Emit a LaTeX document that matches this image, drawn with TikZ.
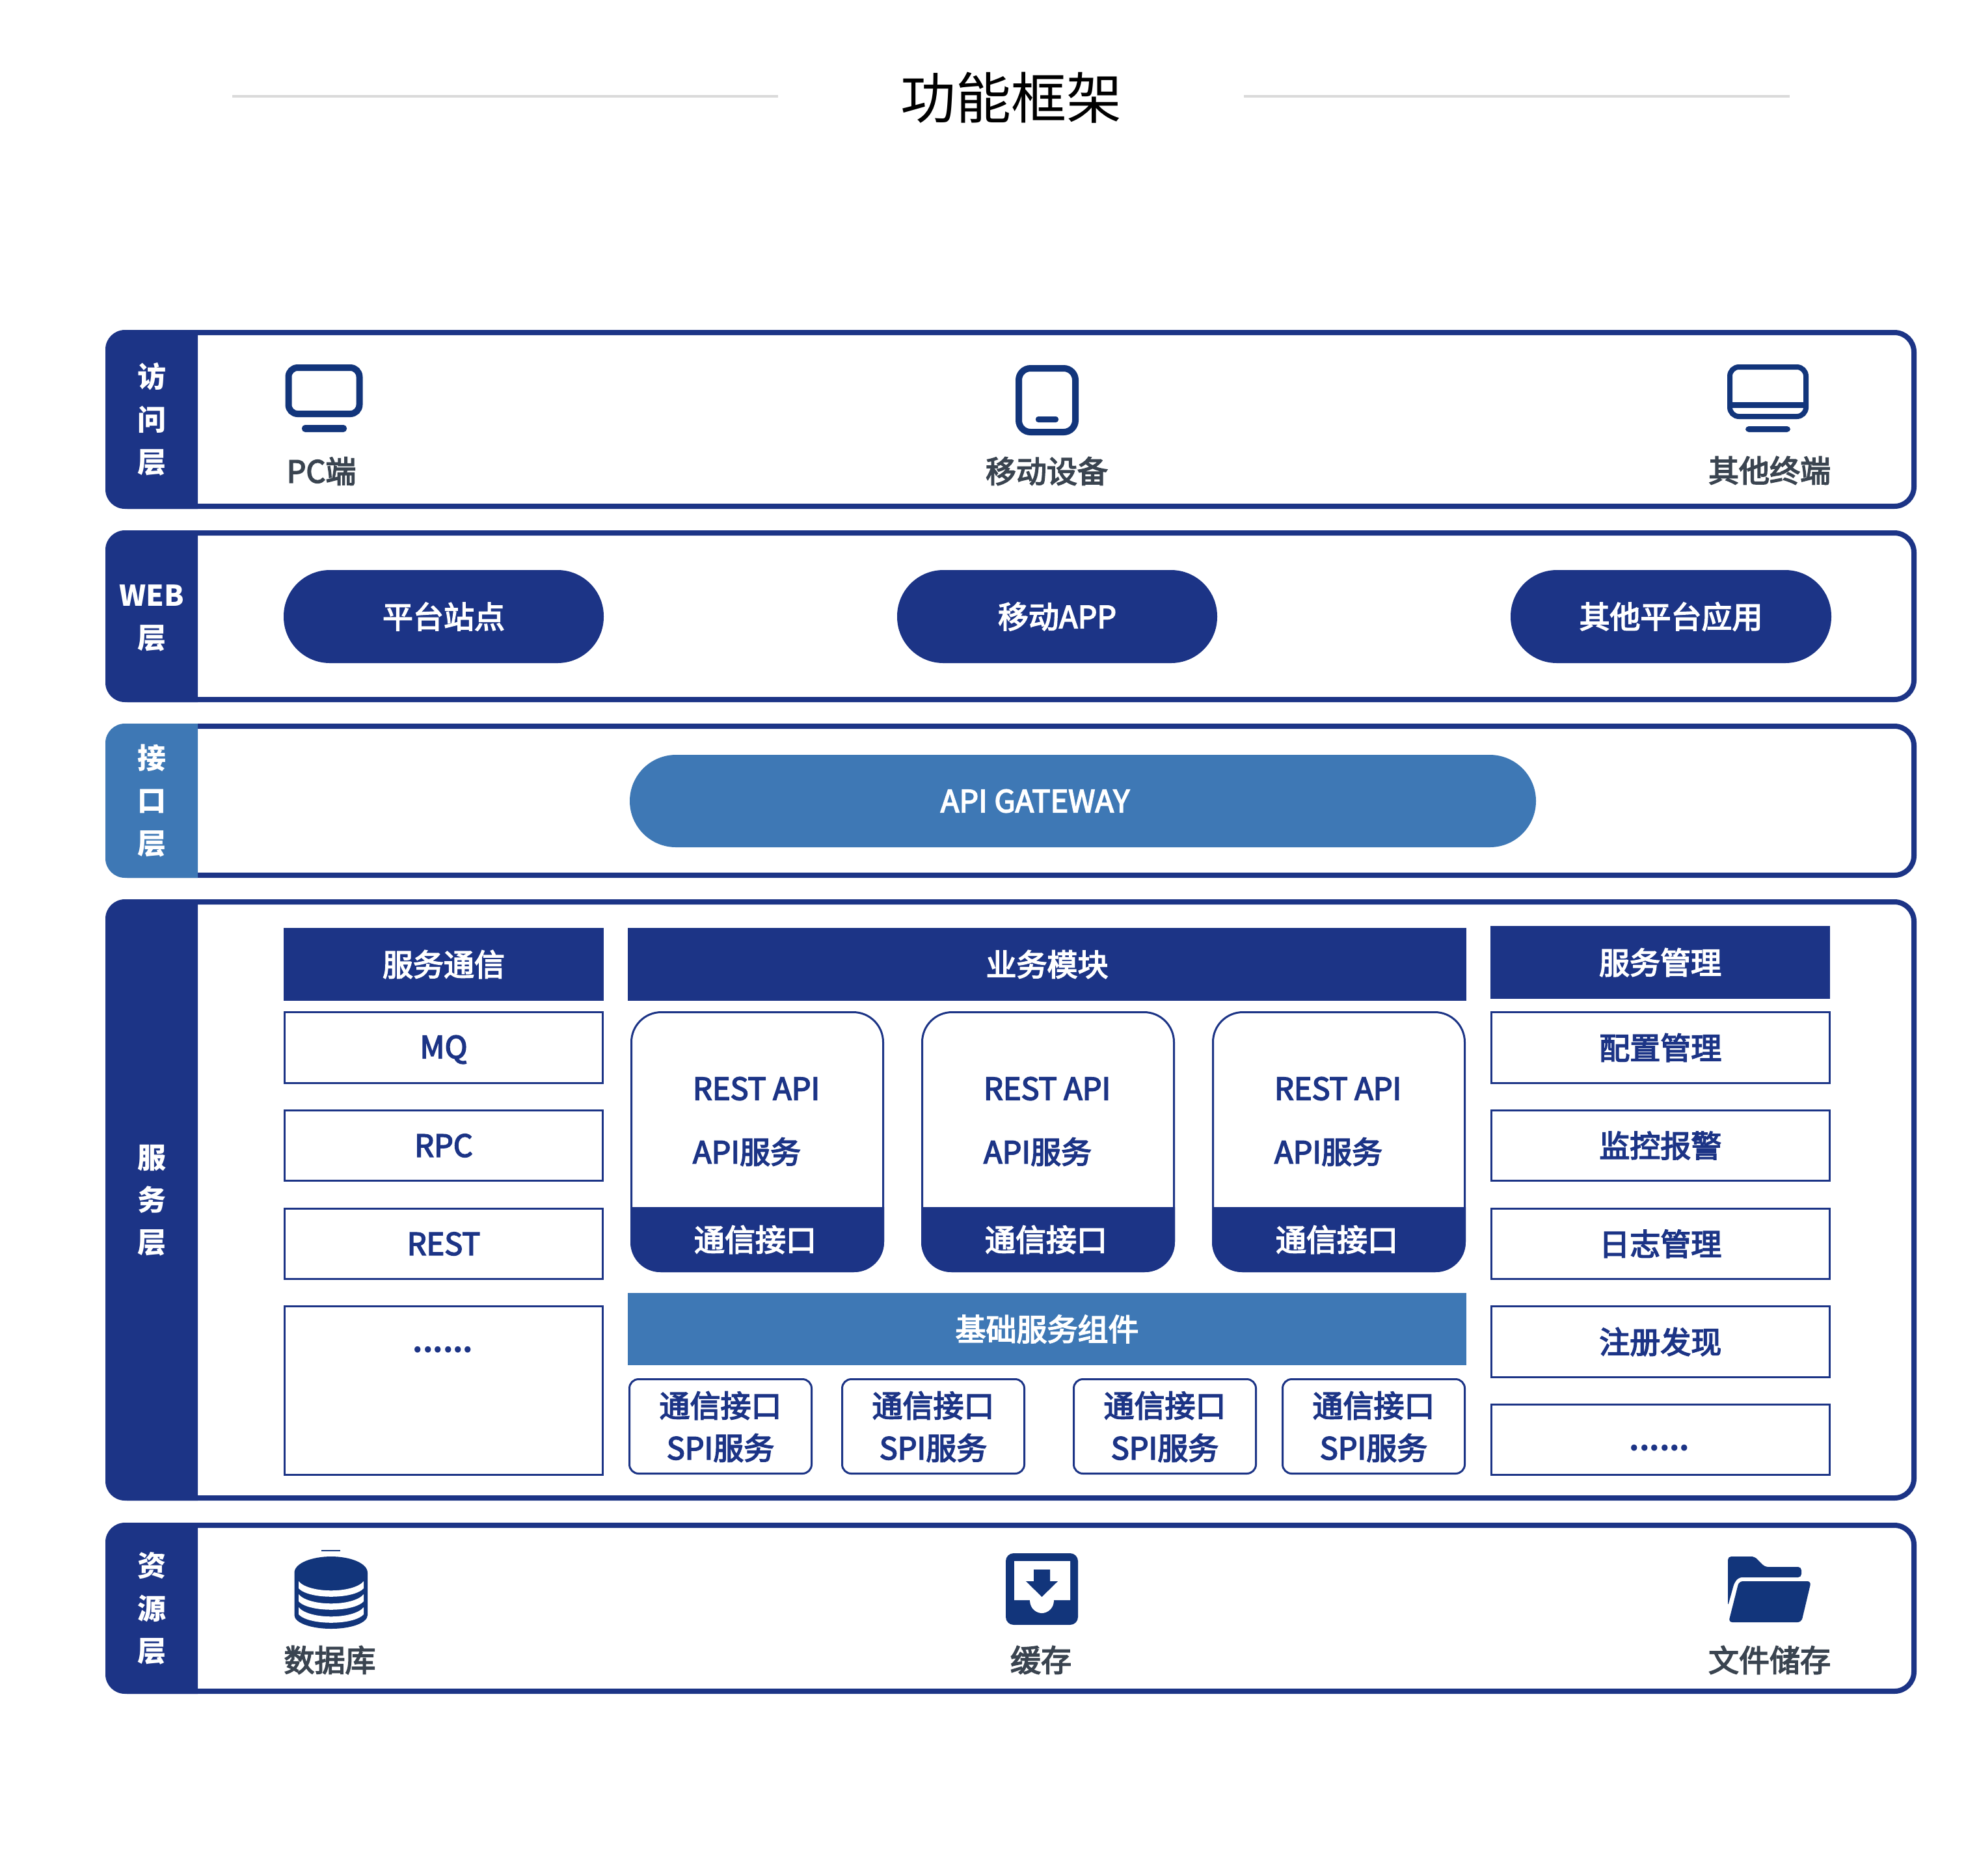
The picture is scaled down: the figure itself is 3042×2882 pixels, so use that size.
\documentclass[tikz,border=0pt]{standalone}
\usepackage{fontspec}
\setmainfont{Noto Sans CJK SC}
\definecolor{navy}{HTML}{1C3486}
\definecolor{iconblue}{HTML}{12357B}
\definecolor{steel}{HTML}{3E78B5}
\definecolor{ink}{HTML}{3A4450}
\definecolor{rule}{HTML}{DADADA}
\tikzset{
  x=0.5pt,y=-0.5pt,
  plaintxt/.style={inner sep=0,outer sep=0},
  txt/.style={plaintxt,font=\fontsize{23.5}{27}\selectfont,
    execute at begin node=\special{pdf:code 2 Tr 0.8 w},
    execute at end node=\special{pdf:code 0 Tr 0.4 w}},
  tabtxt/.style={plaintxt,text=white,font=\bfseries\fontsize{22}{26}\selectfont},
  lbl/.style={txt,text=ink},
  wtxt/.style={txt,text=white},
  ntxt/.style={txt,text=navy},
  dots/.style={plaintxt,text=navy,font=\bfseries\fontsize{22}{26}\selectfont},
  bandbox/.style={draw=navy,line width=4pt,rounded corners=15pt,fill=white,inner sep=0},
  filled/.style={fill=navy,text=white,inner sep=0,txt},
  sfilled/.style={fill=steel,text=white,inner sep=0,txt},
  pill/.style={fill=navy,text=white,rounded corners=35.5pt,txt},
  gate/.style={fill=steel,text=white,rounded corners=35.5pt,txt},
  thinbox/.style={draw=navy,line width=1.5pt,fill=white,text=navy,txt},
  spibox/.style={thinbox,rounded corners=7pt,align=center},
  cardbox/.style={draw=navy,line width=1.5pt,fill=white,rounded corners=23pt,inner sep=0},
  icon/.style={draw=iconblue,line width=5pt,rounded corners=7pt},
  iconfill/.style={fill=iconblue},
}
\newcommand{\rbox}[7]{%
  \pgfmathsetmacro\cx{(#2+#4)/2}\pgfmathsetmacro\cy{(#3+#5)/2}%
  \pgfmathsetmacro\bw{((#4)-(#2))/2}\pgfmathsetmacro\bh{((#5)-(#3))/2}%
  \node[#6,minimum width=\bw pt,minimum height=\bh pt] (#1) at (\cx,\cy) {#7};}
\newcommand{\band}[5]{% name top bottom colour
  \rbox{#1}{166}{#2+4}{2942}{#3-4}{bandbox}{}
  \fill[#4] (304,#2) [rounded corners=15pt] -- (162,#2) -- (162,#3) [sharp corners] -- (304,#3) -- cycle;
  #5}
\newcommand{\card}[3]{% name x1 x2
  \rbox{#1}{#2+1.5}{1555.5}{#3-1.5}{1953.5}{cardbox}{}
  \fill[navy] (#2,1855) [rounded corners=23pt] -- (#2,1955) -- (#3,1955) [sharp corners] -- (#3,1855) -- cycle;
  \pgfmathsetmacro\tx{#2+96}\pgfmathsetmacro\ty{#2+192}%
  \node[ntxt,anchor=west] (#1r) at (\tx,1673) {REST API};
  \node[ntxt,anchor=west] (#1a) at (\tx,1770) {API服务};
  \node[wtxt] (#1c) at (\ty,1905) {通信接口};}
\newcommand{\spi}[3]{%
  \rbox{#1}{#2+1.5}{2119.5}{#3-1.5}{2264.5}{spibox}{}
  \pgfmathsetmacro\tx{(#2+#3)/2}%
  \node[ntxt] (#1a) at (\tx,2160) {通信接口};
  \node[ntxt] (#1b) at (\tx,2225) {SPI服务};}
\begin{document}
\begin{tikzpicture}
\useasboundingbox (0,0) rectangle (3042,2882);
\fill[white] (0,0) rectangle (3042,2882);
% title
\node[inner sep=0,font=\fontsize{42.5}{50}\selectfont] (title) at (1554,150) {功能框架};
\coordinate (rl1) at (357,148);\coordinate (rl2) at (1196,148);
\coordinate (rr1) at (1912,148);\coordinate (rr2) at (2751,148);
\draw[rule,line width=2pt] (rl1) -- (rl2);
\draw[rule,line width=2pt] (rr1) -- (rr2);
% bands
\band{access}{507}{782}{navy}{}
\band{web}{815}{1079}{navy}{}
\band{apiband}{1112}{1349}{steel}{}
\band{svc}{1382}{2306}{navy}{}
\band{res}{2340}{2603}{navy}{}
% tab labels
\node[tabtxt] (t1a) at (233,579) {访};
\node[tabtxt] (t1b) at (233,645) {问};
\node[tabtxt] (t1c) at (233,711) {层};
\node[tabtxt] (t2a) at (233,915) {WEB};
\node[tabtxt] (t2b) at (233,981) {层};
\node[tabtxt] (t3a) at (233,1165) {接};
\node[tabtxt] (t3b) at (233,1231) {口};
\node[tabtxt] (t3c) at (233,1297) {层};
\node[tabtxt] (t4a) at (233,1780) {服};
\node[tabtxt] (t4b) at (233,1844) {务};
\node[tabtxt] (t4c) at (233,1910) {层};
\node[tabtxt] (t5a) at (233,2406) {资};
\node[tabtxt] (t5b) at (233,2472) {源};
\node[tabtxt] (t5c) at (233,2538) {层};
% access icons
\draw[icon] (443.5,565) rectangle (552.5,636);
\fill[iconfill,rounded corners=2.5pt] (464,653) rectangle (533,664);
\node[lbl] (pc) at (494,724) {PC端};
\draw[icon,rounded corners=9pt] (1566,566) rectangle (1653,664);
\fill[iconfill,rounded corners=2pt] (1592,640) rectangle (1627,649);
\node[lbl] (mobile) at (1609,724) {移动设备};
\draw[icon,line width=4pt] (2659,564) rectangle (2776,640);
\fill[iconfill] (2659,618) rectangle (2776,627);
\fill[iconfill,rounded corners=2.5pt] (2683,655) rectangle (2752,664);
\node[lbl] (other) at (2720,723) {其他终端};
% web pills
\rbox{p1}{436}{876}{928}{1019}{pill}{平台站点}
\rbox{p2}{1379}{876}{1871}{1019}{pill}{移动APP}
\rbox{p3}{2322}{876}{2815}{1019}{pill}{其他平台应用}
% gateway
\rbox{gw}{968}{1160}{2361}{1302}{gate}{}
\node[wtxt] (gwt) at (1591,1231) {API GATEWAY};
% service headers
\rbox{h1}{436}{1426}{928}{1538}{filled}{服务通信}
\rbox{h2}{965}{1426}{2254}{1538}{filled}{业务模块}
\rbox{h3}{2291}{1423}{2813}{1535}{filled}{服务管理}
% left column
\rbox{l1}{437.5}{1555.5}{926.5}{1664.5}{thinbox}{}
\node[ntxt] (l1t) at (682,1613) {MQ};
\rbox{l2}{437.5}{1706.5}{926.5}{1814.5}{thinbox}{RPC}
\rbox{l3}{437.5}{1857.5}{926.5}{1965.5}{thinbox}{REST}
\rbox{l4}{437.5}{2007.5}{926.5}{2266}{thinbox}{}
\node[dots] (l4t) at (681,2074) {......};
% cards
\card{c1}{969}{1359}
\card{c2}{1416}{1806}
\card{c3}{1863}{2253}
% base components
\rbox{base}{965}{1987}{2254}{2098}{sfilled}{基础服务组件}
\spi{s1}{966}{1249}
\spi{s2}{1293}{1576}
\spi{s3}{1649}{1932}
\spi{s4}{1970}{2253}
% right column
\rbox{r1}{2292.5}{1555.5}{2812}{1664.5}{thinbox}{配置管理}
\rbox{r2}{2292.5}{1706.5}{2812}{1814.5}{thinbox}{监控报警}
\rbox{r3}{2292.5}{1857.5}{2812}{1965.5}{thinbox}{日志管理}
\rbox{r4}{2292.5}{2007.5}{2812}{2116.5}{thinbox}{注册发现}
\rbox{r5}{2292.5}{2158.5}{2812}{2266}{thinbox}{}
\node[dots] (r5t) at (2551,2225) {......};
% database icon
\fill[iconfill] (452.5,2417) .. controls (452.5,2402) and (480,2392) .. (509,2392) .. controls (538,2392) and (565,2402) .. (565,2417) -- (565,2482) .. controls (565,2494) and (540,2503) .. (509,2503) .. controls (478,2503) and (452.5,2494) .. (452.5,2482) -- cycle;
\foreach \d in {0,20,40}{
  \fill[white] (459,2430+\d) .. controls (475,2449+\d) and (543,2449+\d) .. (559,2430+\d) -- (559,2441+\d) .. controls (543,2458+\d) and (475,2458+\d) .. (459,2441+\d) -- cycle;
}
\draw[iconblue,line width=0.6pt] (494,2383) -- (523,2383);
\node[lbl] (db) at (507,2551) {数据库};
% cache icon
\fill[iconfill,rounded corners=6pt] (1546,2387) rectangle (1657,2497);
\fill[white] (1559,2399) -- (1645,2399) -- (1645,2459) -- (1620,2459) .. controls (1620,2472) and (1610,2479) .. (1601.5,2479) .. controls (1593,2479) and (1583,2472) .. (1583,2459) -- (1559,2459) -- cycle;
\fill[iconfill] (1589,2412) -- (1614,2412) -- (1614,2430) -- (1626,2430) -- (1601.5,2454) -- (1577,2430) -- (1589,2430) -- cycle;
\node[lbl] (cache) at (1600,2551) {缓存};
% folder icon
\fill[iconfill,rounded corners=2.5pt] (2656,2392) -- (2697,2392) -- (2713,2408) -- (2769,2408) -- (2769,2424) -- (2673,2424) -- (2666,2432) -- (2656,2468) -- cycle;
\fill[iconfill,rounded corners=3pt] (2673,2430) -- (2784,2430) -- (2769,2493) -- (2657,2493) -- cycle;
\node[lbl] (files) at (2720,2551) {文件储存};
\end{tikzpicture}
\end{document}
